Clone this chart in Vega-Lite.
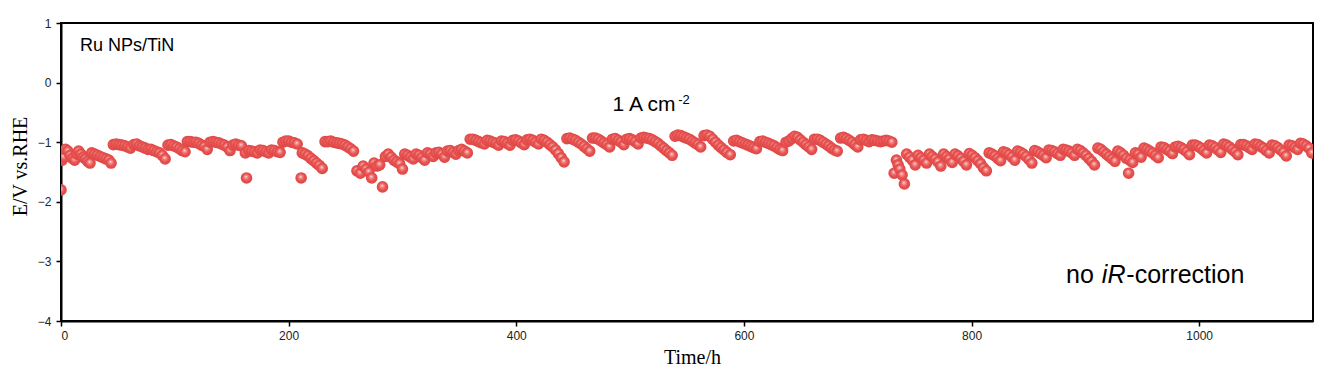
{
  "$schema": "https://vega.github.io/schema/vega-lite/v6.json",
  "width": 1252,
  "height": 298,
  "autosize": {"type": "none"},
  "padding": {"left": 61, "top": 23, "right": 13, "bottom": 54},
  "background": "white",
  "config": {
    "view": {"stroke": "black", "strokeWidth": 2},
    "axis": {"grid": false, "domainColor": "black", "domainWidth": 2, "tickColor": "black", "tickWidth": 1.5, "tickSize": 5, "labelFont": "Liberation Sans", "labelFontSize": 12, "labelColor": "#222", "titleFont": "Liberation Serif", "titleFontWeight": "normal", "titleFontSize": 20, "titleColor": "black"}
  },
  "data": {"values": [
    {"t":0,"E":-1.80},{"t":1,"E":-1.30},{"t":2.5,"E":-1.25},{"t":4,"E":-1.12},{"t":6,"E":-1.15},{"t":8,"E":-1.22},{"t":10,"E":-1.27},{"t":12,"E":-1.30},{"t":14,"E":-1.20},{"t":15.5,"E":-1.15},{"t":17.5,"E":-1.20},{"t":19.5,"E":-1.25},{"t":21.5,"E":-1.28},{"t":23.5,"E":-1.32},{"t":25.5,"E":-1.35},{"t":27,"E":-1.18},{"t":29.5,"E":-1.20},{"t":32,"E":-1.22},{"t":34.5,"E":-1.24},{"t":37,"E":-1.26},{"t":39.5,"E":-1.28},{"t":42,"E":-1.30},{"t":44,"E":-1.35},
    {"t":46,"E":-1.04},{"t":48.5,"E":-1.03},{"t":51,"E":-1.04},{"t":53.5,"E":-1.05},{"t":56,"E":-1.06},{"t":58.5,"E":-1.08},{"t":61,"E":-1.10},{"t":64,"E":-1.04},{"t":66.5,"E":-1.03},{"t":69,"E":-1.06},{"t":71.5,"E":-1.08},{"t":74,"E":-1.10},{"t":76.5,"E":-1.12},{"t":79,"E":-1.12},{"t":81.5,"E":-1.14},{"t":84,"E":-1.16},{"t":86.5,"E":-1.18},{"t":89,"E":-1.22},{"t":91.5,"E":-1.28},
    {"t":94,"E":-1.05},{"t":96.5,"E":-1.04},{"t":99,"E":-1.06},{"t":101.5,"E":-1.08},{"t":104,"E":-1.11},{"t":106.5,"E":-1.14},{"t":109,"E":-1.16},{"t":111,"E":-0.99},{"t":113.5,"E":-0.99},{"t":116,"E":-1.00},{"t":118.5,"E":-1.00},{"t":121,"E":-1.02},{"t":123.5,"E":-1.05},{"t":126,"E":-1.07},{"t":128.5,"E":-1.12},{"t":131,"E":-1.00},{"t":133.5,"E":-0.99},{"t":136,"E":-1.00},{"t":138.5,"E":-1.01},{"t":141,"E":-1.03},{"t":143.5,"E":-1.05},{"t":146,"E":-1.08},{"t":148.5,"E":-1.14},{"t":151,"E":-1.05},{"t":153.5,"E":-1.03},{"t":156,"E":-1.05},{"t":158.5,"E":-1.06},
    {"t":163,"E":-1.60},{"t":162,"E":-1.18},{"t":165,"E":-1.14},{"t":167.5,"E":-1.15},{"t":170,"E":-1.16},{"t":172.5,"E":-1.18},{"t":175,"E":-1.13},{"t":177.5,"E":-1.14},{"t":180,"E":-1.16},{"t":182.5,"E":-1.18},{"t":185,"E":-1.13},{"t":187.5,"E":-1.14},{"t":190,"E":-1.16},{"t":192.5,"E":-1.17},{"t":195,"E":-1.00},{"t":197.5,"E":-0.98},{"t":200,"E":-0.98},{"t":202.5,"E":-1.00},{"t":205,"E":-1.01},{"t":207.5,"E":-1.03},
    {"t":211,"E":-1.60},{"t":212,"E":-1.18},{"t":214.5,"E":-1.20},{"t":217,"E":-1.23},{"t":219.5,"E":-1.27},{"t":222,"E":-1.31},{"t":224.5,"E":-1.35},{"t":227,"E":-1.39},{"t":229.5,"E":-1.44},{"t":232,"E":-0.99},{"t":234.5,"E":-0.99},{"t":237,"E":-0.98},{"t":239.5,"E":-1.00},{"t":242,"E":-1.01},{"t":244.5,"E":-1.02},{"t":247,"E":-1.03},{"t":249.5,"E":-1.05},{"t":252,"E":-1.08},{"t":254.5,"E":-1.11},{"t":257,"E":-1.15},
    {"t":260,"E":-1.48},{"t":263,"E":-1.52},{"t":265.5,"E":-1.40},{"t":268,"E":-1.45},{"t":270.5,"E":-1.50},{"t":273,"E":-1.60},{"t":275,"E":-1.35},{"t":277.5,"E":-1.40},{"t":280,"E":-1.38},{"t":282.5,"E":-1.75},{"t":285,"E":-1.24},{"t":287.5,"E":-1.20},{"t":290,"E":-1.25},{"t":292.5,"E":-1.30},{"t":295,"E":-1.33},{"t":297.5,"E":-1.36},{"t":300,"E":-1.45},
    {"t":302,"E":-1.20},{"t":304.5,"E":-1.22},{"t":307,"E":-1.25},{"t":309.5,"E":-1.28},{"t":312,"E":-1.20},{"t":314.5,"E":-1.22},{"t":317,"E":-1.26},{"t":319.5,"E":-1.30},{"t":322,"E":-1.18},{"t":324.5,"E":-1.20},{"t":327,"E":-1.24},{"t":329.5,"E":-1.18},{"t":332,"E":-1.17},{"t":334.5,"E":-1.20},{"t":337,"E":-1.25},{"t":339.5,"E":-1.15},{"t":342,"E":-1.14},{"t":344.5,"E":-1.17},{"t":347,"E":-1.20},{"t":349.5,"E":-1.14},{"t":352,"E":-1.12},{"t":354.5,"E":-1.15},{"t":357,"E":-1.18},
    {"t":359.5,"E":-0.95},{"t":362,"E":-0.95},{"t":364.5,"E":-0.97},{"t":367,"E":-0.99},{"t":369.5,"E":-1.01},{"t":372,"E":-1.03},{"t":374.5,"E":-0.97},{"t":377,"E":-0.98},{"t":379.5,"E":-1.00},{"t":382,"E":-1.02},{"t":384.5,"E":-1.05},{"t":387,"E":-0.98},{"t":389.5,"E":-0.99},{"t":392,"E":-1.02},{"t":394.5,"E":-1.05},{"t":397,"E":-0.97},{"t":399.5,"E":-0.96},{"t":402,"E":-0.98},{"t":404.5,"E":-1.01},{"t":407,"E":-1.04},{"t":409.5,"E":-0.96},{"t":412,"E":-0.95},{"t":414.5,"E":-0.97},{"t":417,"E":-1.00},{"t":419.5,"E":-1.03},
    {"t":422,"E":-0.95},{"t":424.5,"E":-0.97},{"t":427,"E":-1.00},{"t":429.5,"E":-1.04},{"t":432,"E":-1.08},{"t":434.5,"E":-1.13},{"t":437,"E":-1.19},{"t":439.5,"E":-1.26},{"t":442,"E":-1.33},
    {"t":444.5,"E":-0.94},{"t":447,"E":-0.93},{"t":449.5,"E":-0.95},{"t":452,"E":-0.97},{"t":454.5,"E":-1.00},{"t":457,"E":-1.03},{"t":459.5,"E":-1.07},{"t":462,"E":-1.11},{"t":464.5,"E":-1.15},{"t":467,"E":-0.93},{"t":469.5,"E":-0.93},{"t":472,"E":-0.95},{"t":474.5,"E":-0.98},{"t":477,"E":-1.01},{"t":479.5,"E":-1.04},{"t":482,"E":-1.08},{"t":484.5,"E":-0.95},{"t":487,"E":-0.94},{"t":489.5,"E":-0.97},{"t":492,"E":-1.00},{"t":494.5,"E":-1.04},{"t":497,"E":-0.95},{"t":499.5,"E":-0.94},{"t":502,"E":-0.96},{"t":504.5,"E":-0.99},{"t":507,"E":-1.03},
    {"t":509.5,"E":-0.93},{"t":512,"E":-0.92},{"t":514.5,"E":-0.93},{"t":517,"E":-0.94},{"t":519.5,"E":-0.96},{"t":522,"E":-0.99},{"t":524.5,"E":-1.02},{"t":527,"E":-1.06},{"t":529.5,"E":-1.10},{"t":532,"E":-1.14},{"t":534.5,"E":-1.18},{"t":537,"E":-1.22},
    {"t":539.5,"E":-0.90},{"t":542,"E":-0.88},{"t":544.5,"E":-0.89},{"t":547,"E":-0.91},{"t":549.5,"E":-0.93},{"t":552,"E":-0.95},{"t":554.5,"E":-0.98},{"t":557,"E":-1.01},{"t":559.5,"E":-1.04},{"t":562,"E":-1.08},{"t":565,"E":-0.89},{"t":567.5,"E":-0.88},{"t":570,"E":-0.90},{"t":572.5,"E":-0.95},{"t":575,"E":-1.00},{"t":577.5,"E":-1.05},{"t":580,"E":-1.09},{"t":582.5,"E":-1.13},{"t":585,"E":-1.17},{"t":588,"E":-1.21},
    {"t":591,"E":-0.98},{"t":593.5,"E":-0.97},{"t":596,"E":-0.99},{"t":598.5,"E":-1.01},{"t":601,"E":-1.03},{"t":603.5,"E":-1.05},{"t":606,"E":-1.07},{"t":608.5,"E":-1.09},{"t":611,"E":-1.11},{"t":614,"E":-0.99},{"t":616.5,"E":-0.98},{"t":619,"E":-1.00},{"t":621.5,"E":-1.02},{"t":624,"E":-1.04},{"t":626.5,"E":-1.06},{"t":629,"E":-1.09},{"t":631.5,"E":-1.12},{"t":634,"E":-1.14},
    {"t":637,"E":-1.00},{"t":639.5,"E":-0.98},{"t":642,"E":-0.94},{"t":644.5,"E":-0.90},{"t":647,"E":-0.92},{"t":649.5,"E":-0.96},{"t":652,"E":-1.00},{"t":654.5,"E":-1.04},{"t":657,"E":-1.08},{"t":659.5,"E":-1.12},{"t":662,"E":-0.95},{"t":664.5,"E":-0.95},{"t":667,"E":-0.97},{"t":669.5,"E":-1.00},{"t":672,"E":-1.03},{"t":674.5,"E":-1.06},{"t":677,"E":-1.10},{"t":679.5,"E":-1.13},{"t":682,"E":-1.15},
    {"t":685,"E":-0.93},{"t":687.5,"E":-0.92},{"t":690,"E":-0.94},{"t":692.5,"E":-0.97},{"t":695,"E":-1.00},{"t":697.5,"E":-1.04},{"t":700,"E":-1.08},{"t":702.5,"E":-0.96},{"t":705,"E":-0.95},{"t":707.5,"E":-0.97},{"t":710,"E":-0.99},{"t":712.5,"E":-0.96},{"t":715,"E":-0.97},{"t":717.5,"E":-0.98},{"t":720,"E":-0.99},{"t":722.5,"E":-0.98},{"t":725,"E":-0.97},{"t":727.5,"E":-0.98},{"t":730,"E":-1.00},
    {"t":732,"E":-1.52},{"t":734,"E":-1.30},{"t":735.5,"E":-1.38},{"t":737,"E":-1.45},{"t":739,"E":-1.55},{"t":741,"E":-1.70},
    {"t":743,"E":-1.20},{"t":745.5,"E":-1.25},{"t":748,"E":-1.30},{"t":750.5,"E":-1.38},{"t":753,"E":-1.22},{"t":755.5,"E":-1.26},{"t":758,"E":-1.30},{"t":760.5,"E":-1.35},{"t":763,"E":-1.20},{"t":765.5,"E":-1.24},{"t":768,"E":-1.28},{"t":770.5,"E":-1.33},{"t":773,"E":-1.40},{"t":775.5,"E":-1.20},{"t":778,"E":-1.24},{"t":780.5,"E":-1.28},{"t":783,"E":-1.34},{"t":785.5,"E":-1.20},{"t":788,"E":-1.23},{"t":790.5,"E":-1.27},{"t":793,"E":-1.32},{"t":795.5,"E":-1.38},{"t":798,"E":-1.19},{"t":800.5,"E":-1.22},{"t":803,"E":-1.26},{"t":805.5,"E":-1.31},{"t":808,"E":-1.36},{"t":810.5,"E":-1.43},{"t":813,"E":-1.48},
    {"t":815.5,"E":-1.18},{"t":818,"E":-1.20},{"t":820.5,"E":-1.23},{"t":823,"E":-1.27},{"t":825.5,"E":-1.31},{"t":828,"E":-1.16},{"t":830.5,"E":-1.18},{"t":833,"E":-1.21},{"t":835.5,"E":-1.25},{"t":838,"E":-1.30},{"t":840.5,"E":-1.15},{"t":843,"E":-1.17},{"t":845.5,"E":-1.20},{"t":848,"E":-1.24},{"t":850.5,"E":-1.29},{"t":853,"E":-1.35},{"t":855.5,"E":-1.14},{"t":858,"E":-1.16},{"t":860.5,"E":-1.19},{"t":863,"E":-1.22},{"t":865.5,"E":-1.26},{"t":868,"E":-1.13},{"t":870.5,"E":-1.14},{"t":873,"E":-1.16},{"t":875.5,"E":-1.19},{"t":878,"E":-1.22},{"t":880.5,"E":-1.12},{"t":883,"E":-1.13},{"t":885.5,"E":-1.15},{"t":888,"E":-1.18},{"t":890.5,"E":-1.22},{"t":893,"E":-1.12},{"t":895.5,"E":-1.14},{"t":898,"E":-1.18},{"t":900.5,"E":-1.22},{"t":903,"E":-1.27},{"t":905.5,"E":-1.32},{"t":908,"E":-1.38},
    {"t":911,"E":-1.10},{"t":913.5,"E":-1.12},{"t":916,"E":-1.16},{"t":918.5,"E":-1.20},{"t":921,"E":-1.24},{"t":923.5,"E":-1.28},{"t":926,"E":-1.32},{"t":928.5,"E":-1.15},{"t":931,"E":-1.18},{"t":933.5,"E":-1.22},{"t":936,"E":-1.27},{"t":938,"E":-1.52},{"t":939,"E":-1.30},{"t":941.5,"E":-1.34},{"t":944,"E":-1.18},{"t":946.5,"E":-1.20},{"t":949,"E":-1.25},
    {"t":951.5,"E":-1.10},{"t":954,"E":-1.12},{"t":956.5,"E":-1.15},{"t":959,"E":-1.18},{"t":961.5,"E":-1.22},{"t":964,"E":-1.26},{"t":966.5,"E":-1.08},{"t":969,"E":-1.09},{"t":971.5,"E":-1.12},{"t":974,"E":-1.15},{"t":976.5,"E":-1.19},{"t":979,"E":-1.08},{"t":981.5,"E":-1.07},{"t":984,"E":-1.09},{"t":986.5,"E":-1.12},{"t":989,"E":-1.16},{"t":991.5,"E":-1.21},{"t":994,"E":-1.05},{"t":996.5,"E":-1.05},{"t":999,"E":-1.07},{"t":1001.5,"E":-1.10},{"t":1004,"E":-1.14},{"t":1006.5,"E":-1.18},
    {"t":1009,"E":-1.05},{"t":1011.5,"E":-1.06},{"t":1014,"E":-1.09},{"t":1016.5,"E":-1.13},{"t":1019,"E":-1.17},{"t":1021.5,"E":-1.03},{"t":1024,"E":-1.05},{"t":1026.5,"E":-1.08},{"t":1029,"E":-1.12},{"t":1031.5,"E":-1.16},{"t":1034,"E":-1.21},{"t":1036.5,"E":-1.04},{"t":1039,"E":-1.04},{"t":1041.5,"E":-1.06},{"t":1044,"E":-1.09},{"t":1046.5,"E":-1.12},{"t":1049,"E":-1.03},{"t":1051.5,"E":-1.04},{"t":1054,"E":-1.07},{"t":1056.5,"E":-1.10},{"t":1059,"E":-1.14},{"t":1061.5,"E":-1.18},
    {"t":1064,"E":-1.05},{"t":1066.5,"E":-1.06},{"t":1069,"E":-1.09},{"t":1071.5,"E":-1.13},{"t":1074,"E":-1.17},{"t":1076.5,"E":-1.23},{"t":1079,"E":-1.05},{"t":1081.5,"E":-1.06},{"t":1084,"E":-1.09},{"t":1086.5,"E":-1.12},{"t":1089,"E":-1.02},{"t":1091.5,"E":-1.03},{"t":1094,"E":-1.06},{"t":1096.5,"E":-1.10},{"t":1099,"E":-1.18}
  ]},
  "layer": [
    {
      "mark": {"type": "point", "filled": true, "opacity": 1, "size": 135, "clip": true,
        "fill": {"gradient": "radial", "x1": 0.45, "y1": 0.38, "r1": 0, "x2": 0.5, "y2": 0.5, "r2": 0.55,
          "stops": [{"offset": 0, "color": "#fbe3e1"}, {"offset": 0.22, "color": "#f09290"}, {"offset": 0.55, "color": "#e85250"}, {"offset": 1, "color": "#dc4442"}]}},
      "encoding": {
        "x": {"field": "t", "type": "quantitative", "scale": {"domain": [0, 1100], "nice": false},
          "axis": {"values": [0, 200, 400, 600, 800, 1000], "format": "d", "title": "Time/h", "labelPadding": 4, "titleX": 631, "titleY": 36, "titleBaseline": "middle"}},
        "y": {"field": "E", "type": "quantitative", "scale": {"domain": [-4, 1], "nice": false},
          "axis": {"values": [-4, -3, -2, -1, 0, 1], "format": "d", "title": "E/V vs.RHE", "labelPadding": 5, "titleX": -41, "titleY": 143, "titleAngle": -90, "titleAlign": "center", "titleBaseline": "middle"}}
      }
    },
    {
      "data": {"values": [{"label": "Ru NPs/TiN"}]},
      "mark": {"type": "text", "align": "left", "baseline": "middle", "font": "Liberation Sans", "fontSize": 18, "color": "black"},
      "encoding": {"x": {"datum": 16.7}, "y": {"datum": 0.614}, "text": {"field": "label"}}
    },
    {
      "data": {"values": [{"label": "1 A cm"}]},
      "mark": {"type": "text", "align": "left", "baseline": "middle", "font": "Liberation Sans", "fontSize": 21, "color": "black"},
      "encoding": {"x": {"datum": 484.6}, "y": {"datum": -0.376}, "text": {"field": "label"}}
    },
    {
      "data": {"values": [{"label": "-2"}]},
      "mark": {"type": "text", "align": "left", "baseline": "middle", "font": "Liberation Sans", "fontSize": 13, "color": "black"},
      "encoding": {"x": {"datum": 542.3}, "y": {"datum": -0.29}, "text": {"field": "label"}}
    },
    {
      "data": {"values": [{"label": "no"}]},
      "mark": {"type": "text", "align": "left", "baseline": "middle", "font": "Liberation Sans", "fontSize": 25, "color": "black"},
      "encoding": {"x": {"datum": 883}, "y": {"datum": -3.228}, "text": {"field": "label"}}
    },
    {
      "data": {"values": [{"label": "iR"}]},
      "mark": {"type": "text", "align": "left", "baseline": "middle", "font": "Liberation Sans", "fontSize": 25, "fontStyle": "italic", "color": "black"},
      "encoding": {"x": {"datum": 914.5}, "y": {"datum": -3.228}, "text": {"field": "label"}}
    },
    {
      "data": {"values": [{"label": "-correction"}]},
      "mark": {"type": "text", "align": "left", "baseline": "middle", "font": "Liberation Sans", "fontSize": 25, "color": "black"},
      "encoding": {"x": {"datum": 936}, "y": {"datum": -3.228}, "text": {"field": "label"}}
    }
  ]
}
